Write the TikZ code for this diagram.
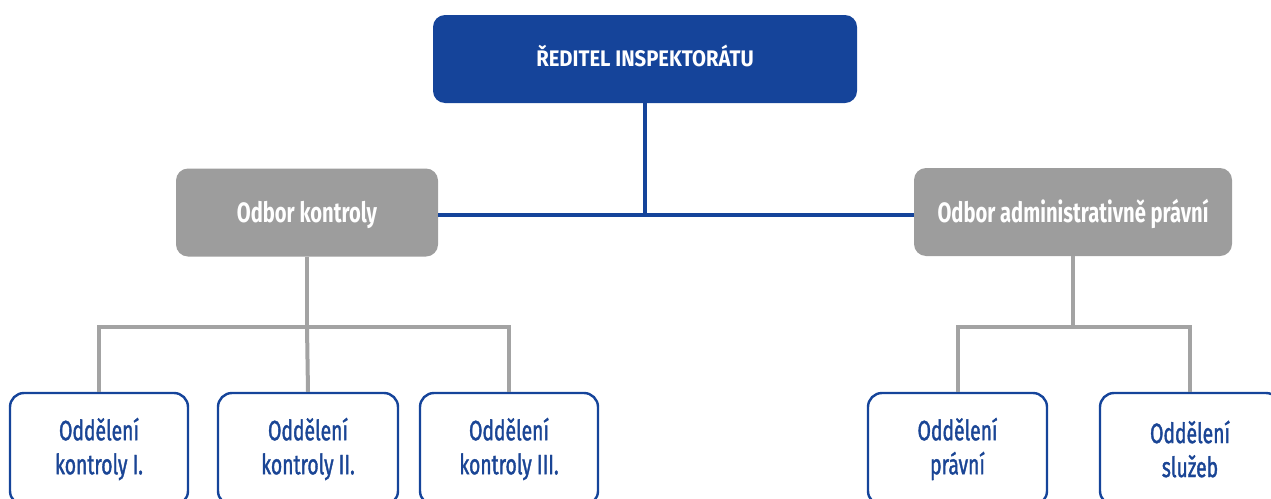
\documentclass[tikz,border=0pt]{standalone}
\usepackage{fontspec}
\setmainfont{Fira Sans}[FakeStretch=0.72]
\newfontfamily\leaffont{Fira Sans}[FakeStretch=0.69, FakeBold=1.3]
\newfontfamily\grayfont{Fira Sans}[FakeStretch=0.72]
\newfontfamily\titlefont{Fira Sans}[FakeStretch=0.9]
\definecolor{topblue}{HTML}{15449A}
\definecolor{txtblue}{HTML}{1A4595}
\definecolor{boxgray}{HTML}{9D9D9D}
\definecolor{linegray}{HTML}{A3A3A3}
\tikzset{
  topbox/.style={fill=topblue, rounded corners=12pt, minimum width=424pt, minimum height=88pt, text=white, text depth=6pt, font=\titlefont\bfseries\fontsize{22.5}{26}\selectfont},
  graybox/.style={fill=boxgray, rounded corners=12pt, minimum height=88pt, text=white, text height=26pt, text depth=5.5pt, font=\grayfont\bfseries\fontsize{28}{31}\selectfont},
  leafbox/.style={draw=topblue, line width=2.4pt, fill=white, rounded corners=14pt, minimum height=112pt, text=txtblue, align=center, font=\leaffont\fontsize{28}{34}\selectfont},
  bline/.style={draw=topblue, line width=3.3pt},
  gline/.style={draw=linegray, line width=4pt},
}
\begin{document}
\begin{tikzpicture}[x=1pt,y=-1pt]
\useasboundingbox (0,0) rectangle (1271,498);
\coordinate (hubB) at (645,215);
\coordinate (jK) at (307,327);
\coordinate (jA) at (1073,327);
\node[topbox] (top) at (645,59) {ŘEDITEL INSPEKTORÁTU};
\node[graybox, minimum width=262pt] (ok) at (307,212.5) {Odbor kontroly};
\node[graybox, minimum width=318pt] (oa) at (1073,212) {Odbor administrativně právní};
\node[leafbox, minimum width=178pt] (b1) at (99,449) {Oddělení\\kontroly I.};
\node[leafbox, minimum width=180pt] (b2) at (308,449) {Oddělení\\kontroly II.};
\node[leafbox, minimum width=178pt] (b3) at (509,449) {Oddělení\\kontroly III.};
\node[leafbox, minimum width=179pt] (b4) at (957.5,449) {Oddělení\\právní};
\node[leafbox, minimum width=180pt] (b5) at (1190,449) {Oddělení\\služeb};
\draw[bline] (top.south) -- (hubB);
\draw[bline] (ok.east |- hubB) -- (oa.west |- hubB);
\draw[gline] (ok.south) -- (jK);
\draw[gline] (b1.north) -- (b1.north |- jK) -- (b3.north |- jK) -- (b3.north);
\draw[gline] (jK) -- (b2.north);
\draw[gline] (oa.south) -- (jA);
\draw[gline] (b4.north) -- (b4.north |- jA) -- (b5.north |- jA) -- (b5.north);
\end{tikzpicture}
\end{document}
